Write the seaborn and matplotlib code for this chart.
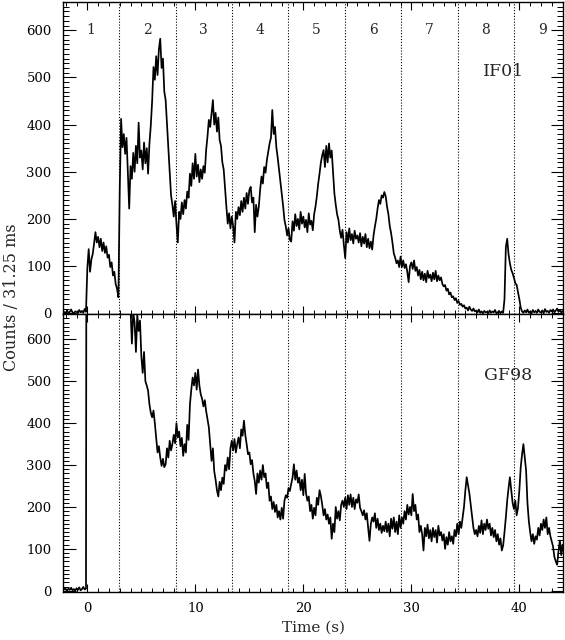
import numpy as np
import pandas as pd
import matplotlib
matplotlib.use("Agg")
import matplotlib.pyplot as plt
from matplotlib.ticker import MultipleLocator
import seaborn as sns

# ---------------- data ----------------
bin_start = -3.0      # s, first bin
bin_width = 0.125     # s

# IF01 light curve, counts per 31.25 ms, 8 values per second starting at -3 s
if01_counts = [
    2, 0, 4, 1, 3, 0, 5, 2,            # -3
    1, 6, 0, 3, 8, 2, 0, 4,            # -2
    3, 0, 7, 2, 5, 1, 9, 3,            # -1
    96, 136, 88, 114, 126, 148, 172, 150,   # 0
    162, 140, 158, 132, 150, 128, 142, 118, # 1
    124, 98, 108, 80, 88, 62, 52, 34,       # 2
    262, 412, 352, 380, 338, 372, 300, 222, # 3
    312, 285, 340, 300, 355, 318, 404, 330, # 4
    345, 305, 362, 318, 350, 296, 360, 398, # 5
    450, 522, 495, 545, 505, 560, 582, 520, # 6
    540, 470, 452, 400, 346, 300, 250, 230, # 7
    205, 238, 190, 150, 215, 200, 235, 210, # 8
    240, 222, 258, 245, 296, 270, 318, 285, # 9
    338, 290, 315, 278, 305, 285, 312, 298, # 10
    346, 375, 410, 395, 424, 452, 400, 425, # 11
    385, 415, 367, 355, 320, 305, 265, 226, # 12
    190, 212, 180, 205, 185, 150, 215, 200, # 13
    225, 208, 238, 215, 245, 222, 255, 232, # 14
    261, 268, 235, 245, 172, 230, 205, 226, # 15
    262, 290, 275, 310, 298, 325, 342, 360, # 16
    372, 431, 380, 395, 352, 330, 305, 280, # 17
    254, 228, 198, 184, 165, 180, 156, 152, # 18
    195, 175, 210, 185, 200, 178, 215, 190, # 19
    205, 182, 198, 172, 212, 188, 196, 176, # 20
    210, 226, 248, 275, 296, 320, 335, 346, # 21
    310, 355, 320, 360, 330, 345, 300, 254, # 22
    230, 210, 198, 175, 160, 177, 145, 117, # 23
    172, 150, 180, 155, 168, 148, 175, 158, # 24
    165, 150, 170, 142, 162, 148, 168, 140, # 25
    158, 138, 152, 135, 165, 184, 200, 222, # 26
    240, 232, 250, 245, 257, 248, 226, 210, # 27
    185, 170, 150, 127, 118, 106, 112, 98,  # 28
    120, 98, 112, 96, 104, 88, 66, 100,     # 29
    108, 94, 112, 90, 98, 80, 92, 72,       # 30
    88, 70, 84, 66, 90, 75, 82, 68,         # 31
    86, 72, 90, 68, 80, 70, 76, 62,         # 32
    57, 60, 48, 52, 40, 44, 34, 36,         # 33
    28, 32, 22, 26, 18, 20, 14, 17,         # 34
    10, 12, 6, 14, 8, 5, 10, 4,             # 35
    6, 2, 8, 1, 4, 0, 5, 2,                 # 36
    3, 0, 6, 1, 4, 2, 7, 0,                 # 37
    2, 5, 0, 4, 1, 30, 140, 158,            # 38
    125, 106, 92, 85, 75, 64, 60, 45,       # 39
    30, 12, 4, 1, 6, 2, 8, 1,               # 40
    4, 0, 7, 2, 5, 1, 8, 3,                 # 41
    2, 6, 0, 9, 3, 5, 1, 7,                 # 42
    4, 8, 2, 6, 10, 3, 7, 2,                # 43
    5, 1, 6, 3, 8, 2, 4, 0,                 # 44
]

# GF98 light curve, same binning
gf98_counts = [
    2, 5, 0, 3, 1, 4, 0, 6,                 # -3
    3, 0, 5, 2, 7, 1, 4, 0,                 # -2
    6, 2, 8, 1, 4, 9, 3, 5,                 # -1
    3000, 2800, 2600, 2400, 2200, 2000, 1900, 1800,  # 0
    1700, 1600, 1500, 1420, 1350, 1280, 1220, 1160,  # 1
    1100, 1050, 1000, 960, 920, 880, 850, 820,       # 2
    790, 770, 750, 730, 715, 700, 690, 680,          # 3
    670, 590, 665, 640, 570, 660, 620, 645, # 4
    560, 520, 570, 500, 490, 477, 445, 425, # 5
    414, 430, 400, 366, 330, 345, 318, 298, # 6
    315, 295, 302, 340, 318, 358, 335, 350, # 7
    372, 352, 400, 366, 380, 345, 365, 322, # 8
    350, 330, 396, 360, 445, 480, 509, 490, # 9
    520, 480, 528, 490, 469, 458, 440, 455, # 10
    429, 410, 390, 350, 310, 340, 285, 265, # 11
    240, 225, 260, 240, 270, 255, 300, 287, # 12
    318, 290, 340, 358, 335, 362, 330, 350, # 13
    366, 340, 385, 370, 406, 372, 350, 326, # 14
    330, 302, 312, 280, 262, 231, 280, 258, # 15
    287, 265, 300, 271, 280, 245, 258, 215, # 16
    225, 195, 212, 188, 205, 175, 190, 170, # 17
    198, 172, 215, 228, 222, 245, 238, 255, # 18
    270, 302, 265, 287, 258, 270, 240, 265, # 19
    228, 279, 232, 215, 225, 190, 205, 172, # 20
    198, 180, 222, 205, 240, 226, 205, 180, # 21
    195, 170, 182, 160, 175, 124, 160, 140, # 22
    200, 172, 190, 168, 205, 215, 200, 222, # 23
    195, 228, 205, 230, 200, 222, 195, 218, # 24
    210, 230, 198, 190, 180, 192, 170, 185, # 25
    150, 119, 160, 175, 165, 185, 150, 172, # 26
    145, 160, 138, 155, 142, 165, 140, 160, # 27
    130, 172, 148, 175, 140, 165, 135, 180, # 28
    150, 175, 160, 190, 170, 205, 182, 200, # 29
    180, 231, 190, 205, 170, 182, 140, 155, # 30
    135, 96, 150, 130, 158, 125, 145, 118,  # 31
    150, 128, 145, 115, 155, 132, 140, 120, # 32
    135, 100, 128, 110, 140, 118, 130, 112, # 33
    145, 130, 160, 135, 165, 150, 175, 200, # 34
    239, 271, 252, 232, 205, 180, 150, 135, # 35
    145, 130, 155, 138, 168, 135, 160, 145, # 36
    170, 148, 160, 132, 150, 128, 145, 118, # 37
    135, 110, 125, 96, 108, 140, 175, 215,  # 38
    245, 271, 240, 210, 195, 215, 180, 198, # 39
    240, 294, 325, 350, 318, 287, 210, 167, # 40
    140, 118, 135, 112, 130, 122, 150, 132, # 41
    160, 145, 170, 150, 175, 135, 150, 130, # 42
    118, 105, 80, 70, 62, 95, 120, 85,      # 43
    110, 90, 100, 80, 95, 85, 105, 90,      # 44
]

cycle_bounds = [2.96, 8.18, 13.40, 18.62, 23.84, 29.06, 34.28, 39.50]
cycle_labels = ["1", "2", "3", "4", "5", "6", "7", "8", "9"]
panel_names = ["IF01", "GF98"]
x_label = "Time (s)"
y_label = "Counts / 31.25 ms"

# ---------------- build tables ----------------
t_if = bin_start + bin_width * np.arange(len(if01_counts))
t_gf = bin_start + bin_width * np.arange(len(gf98_counts))
df_if = pd.DataFrame({"time": t_if, "counts": if01_counts})
df_gf = pd.DataFrame({"time": t_gf, "counts": gf98_counts})

# ---------------- style ----------------
sns.set_style("ticks")
plt.rcParams["font.family"] = ["DejaVu Serif"]
plt.rcParams["axes.linewidth"] = 1.0

fig = plt.figure(figsize=(5.65, 6.4), dpi=100)
ax_top = fig.add_axes([0.111, 0.509, 0.886, 0.488])
ax_bot = fig.add_axes([0.111, 0.075, 0.886, 0.434])

xlim = (-2.28, 44.07)
ylim_top = (-2, 660)
ylim_bot = (-3, 660)

for ax, df, ylim in ((ax_top, df_if, ylim_top), (ax_bot, df_gf, ylim_bot)):
    sns.lineplot(data=df, x="time", y="counts", ax=ax, color="black",
                 lw=1.25, estimator=None, sort=False)
    for b in cycle_bounds:
        ax.axvline(b, color="black", ls=(0, (1, 1.6)), lw=0.8, zorder=0)
    ax.set_xlim(*xlim)
    ax.set_ylim(*ylim)
    ax.set_xlabel("")
    ax.set_ylabel("")
    ax.xaxis.set_major_locator(MultipleLocator(10))
    ax.xaxis.set_minor_locator(MultipleLocator(1))
    ax.yaxis.set_major_locator(MultipleLocator(100))
    ax.yaxis.set_minor_locator(MultipleLocator(10))
    ax.tick_params(axis="both", which="both", direction="in",
                   top=True, right=True, colors="black", labelsize=9.5)
    ax.tick_params(axis="x", which="major", length=6, width=0.8, pad=7)
    ax.tick_params(axis="x", which="minor", length=3, width=0.7)
    ax.tick_params(axis="y", which="major", length=9, width=0.8, pad=8)
    ax.tick_params(axis="y", which="minor", length=4.5, width=0.7)
    for s in ax.spines.values():
        s.set_color("black")
        s.set_linewidth(1.0)

ax_top.tick_params(axis="x", labelbottom=False)

# cycle numbers
mids = [(a + b) / 2 for a, b in zip([cycle_bounds[0] - 5.22] + cycle_bounds,
                                    cycle_bounds + [cycle_bounds[-1] + 5.22])]
for m, lab in zip(mids, cycle_labels):
    ax_top.text(m, 600, lab, ha="center", va="center", fontsize=10)

ax_top.text(38.5, 512, panel_names[0], ha="center", va="center", fontsize=12.5)
ax_bot.text(38.95, 513, panel_names[1], ha="center", va="center", fontsize=12.5)

fig.text(0.554, 0.019, x_label, ha="center", va="center", fontsize=11)
fig.text(0.021, 0.536, y_label, ha="center", va="center", rotation=90,
         fontsize=11.5)

fig.savefig("out.png", dpi=100, facecolor="white")
